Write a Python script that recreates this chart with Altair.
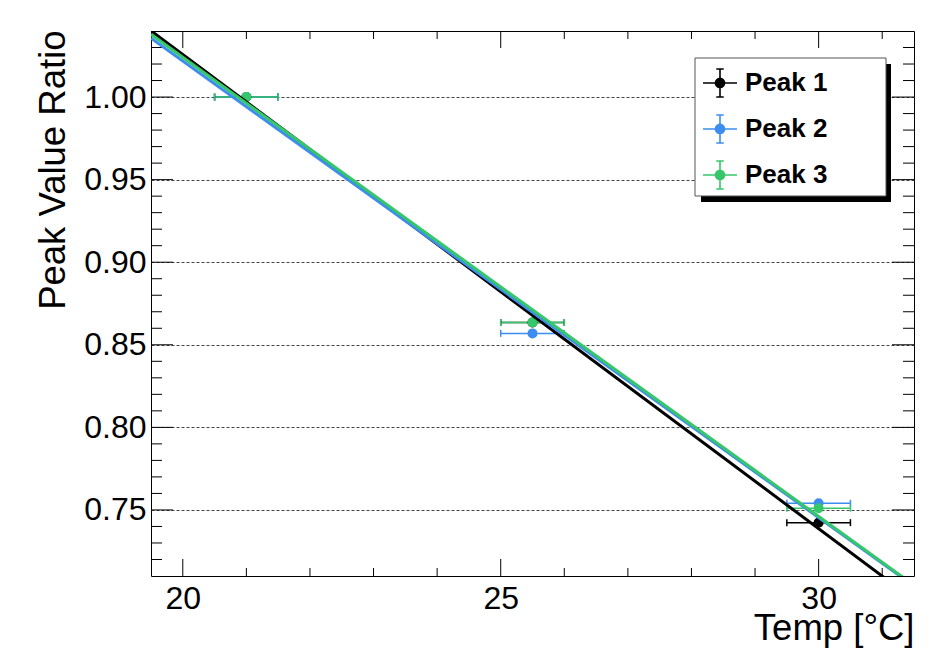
import altair as alt
import pandas as pd

# ---- data ----
series = ["Peak 1", "Peak 2", "Peak 3"]
colors = ["#000000", "#3d8df0", "#36c76a"]

temp = [21.0, 25.5, 30.0]
temp_err = [0.5, 0.5, 0.5]
ratio_peak1 = [1.000, 0.8635, 0.7423]
ratio_peak2 = [1.000, 0.8569, 0.7540]
ratio_peak3 = [1.000, 0.8635, 0.7510]

fit_x = [19.5, 31.5]
fit_peak1 = [1.0401, 0.6956]
fit_peak2 = [1.0356, 0.7039]
fit_peak3 = [1.0380, 0.7044]

x_major = [20, 25, 30]
x_minor = [21, 22, 23, 24, 26, 27, 28, 29, 31]
y_major = [0.75, 0.80, 0.85, 0.90, 0.95, 1.00]
y_minor = [0.72, 0.73, 0.74, 0.76, 0.77, 0.78, 0.79, 0.81, 0.82, 0.83, 0.84,
           0.86, 0.87, 0.88, 0.89, 0.91, 0.92, 0.93, 0.94, 0.96, 0.97, 0.98,
           0.99, 1.01, 1.02, 1.03]

x_domain = [19.5, 31.5]
y_domain = [0.710, 1.040]

# ---- tables ----
rows = []
for s, vals in zip(series, [ratio_peak1, ratio_peak2, ratio_peak3]):
    for t, e, v in zip(temp, temp_err, vals):
        rows.append({"series": s, "x": t, "y": v, "xlo": t - e, "xhi": t + e})
pts = pd.DataFrame(rows)

frows = []
for s, vals in zip(series, [fit_peak1, fit_peak2, fit_peak3]):
    for t, v in zip(fit_x, vals):
        frows.append({"series": s, "x": t, "y": v})
fits = pd.DataFrame(frows)

W, H = 763, 545
FONT = "Liberation Sans"
LBL = 32
TTL = 36.5

xscale = alt.Scale(domain=x_domain, nice=False, zero=False)
yscale = alt.Scale(domain=y_domain, nice=False, zero=False)

xaxis = alt.Axis(values=x_major, labelFontSize=LBL, labelFont=FONT, labelColor="black",
                 labelPadding=7, ticks=False, domain=False, grid=False,
                 title="Temp [°C]", titleFont=FONT, titleFontSize=TTL,
                 titleFontWeight="normal", titleColor="black",
                 titleAlign="right", titleAnchor="end", titleBaseline="alphabetic",
                 titleX=W, titleY=63)
yaxis = alt.Axis(values=y_major, format=".2f", labelFontSize=LBL, labelFont=FONT,
                 labelColor="black", labelPadding=5, ticks=False, domain=False,
                 grid=True, gridDash=[3, 2], gridColor="#444444", gridWidth=1,
                 title="Peak Value Ratio", titleFont=FONT, titleFontSize=TTL,
                 titleFontWeight="normal", titleColor="black",
                 titleAngle=-90, titleAlign="right", titleBaseline="alphabetic",
                 titleX=-87, titleY=-1)

X = alt.X("x:Q", scale=xscale, axis=xaxis)
Y = alt.Y("y:Q", scale=yscale, axis=yaxis)
Xlo = alt.X("xlo:Q", scale=xscale, axis=xaxis)
cscale = alt.Scale(domain=series, range=colors)

# tick marks (inside the frame)
xmaj = pd.DataFrame({"x": x_major})
xmin = pd.DataFrame({"x": x_minor})
ymaj = pd.DataFrame({"y": y_major})
ymin = pd.DataFrame({"y": y_minor})

tk = dict(color="black", strokeWidth=1)
ticks = [
    alt.Chart(xmaj).mark_rule(**tk).encode(x=X, y=alt.value(H), y2=alt.value(H - 17)),
    alt.Chart(xmin).mark_rule(**tk).encode(x=X, y=alt.value(H), y2=alt.value(H - 8)),
    alt.Chart(xmaj).mark_rule(**tk).encode(x=X, y=alt.value(0), y2=alt.value(17)),
    alt.Chart(xmin).mark_rule(**tk).encode(x=X, y=alt.value(0), y2=alt.value(8)),
    alt.Chart(ymaj).mark_rule(**tk).encode(y=Y, x=alt.value(0), x2=alt.value(22)),
    alt.Chart(ymin).mark_rule(**tk).encode(y=Y, x=alt.value(0), x2=alt.value(11)),
    alt.Chart(ymaj).mark_rule(**tk).encode(y=Y, x=alt.value(W), x2=alt.value(W - 22)),
    alt.Chart(ymin).mark_rule(**tk).encode(y=Y, x=alt.value(W), x2=alt.value(W - 11)),
]

col = alt.Color("series:N", scale=cscale, legend=None)

# legend symbol: error cross + (stroke-filled) dot
sym = ("M-1,0H1M0,-0.82V0.82M-0.22,-0.82H0.22M-0.22,0.82H0.22"
       "M0.27,0A0.27,0.27,0,1,1,-0.27,0A0.27,0.27,0,1,1,0.27,0Z"
       "M0.18,0A0.18,0.18,0,1,1,-0.18,0A0.18,0.18,0,1,1,0.18,0Z"
       "M0.09,0A0.09,0.09,0,1,1,-0.09,0A0.09,0.09,0,1,1,0.09,0Z"
       "M0.03,0A0.03,0.03,0,1,1,-0.03,0A0.03,0.03,0,1,1,0.03,0Z")
leg = alt.Legend(title=None, orient="none", legendX=544, legendY=27, padding=7,
                 symbolType=sym, symbolSize=1156, symbolStrokeWidth=1.6,
                 symbolOpacity=1, symbolFillColor="transparent",
                 rowPadding=10, labelFont=FONT, labelFontSize=26,
                 labelFontWeight="bold", labelColor="black", labelOffset=7,
                 labelLimit=400, zindex=5)

errbars = alt.Chart(pts).mark_rule(strokeWidth=1.5).encode(
    x=Xlo, x2="xhi:Q", y=Y,
    color=alt.Color("series:N", scale=cscale, legend=leg))
cap_lo = alt.Chart(pts).mark_rule(strokeWidth=1.5, yOffset=-3.5, y2Offset=3.5).encode(
    x=Xlo, y=Y, y2="y:Q", color=col)
cap_hi = alt.Chart(pts).mark_rule(strokeWidth=1.5, yOffset=-3.5, y2Offset=3.5).encode(
    x=alt.X("xhi:Q", scale=xscale, axis=xaxis), y=Y, y2="y:Q", color=col)

points = alt.Chart(pts).mark_circle(size=100, opacity=1).encode(
    x=X, y=Y, color=col)

lines = alt.Chart(fits).mark_line(strokeWidth=3, clip=True).encode(
    x=X, y=Y, color=col)

# legend frame with drop shadow
one = pd.DataFrame({"a": [0]})
shadow = alt.Chart(one).mark_rect(fill="black").encode(
    x=alt.value(550), x2=alt.value(740), y=alt.value(33), y2=alt.value(171))
box = alt.Chart(one).mark_rect(fill="white", stroke="#555555", strokeWidth=1).encode(
    x=alt.value(544), x2=alt.value(735), y=alt.value(27), y2=alt.value(165))

chart = alt.layer(
    *ticks, errbars, cap_lo, cap_hi, points, lines, shadow, box
).properties(
    width=W, height=H,
    autosize=alt.AutoSizeParams(type="none"),
    padding={"left": 151, "top": 31, "right": 17, "bottom": 82},
    background="white",
).configure_view(stroke="black", strokeWidth=1)

chart.save("out.html", embed_options={"renderer": "svg", "actions": False})
